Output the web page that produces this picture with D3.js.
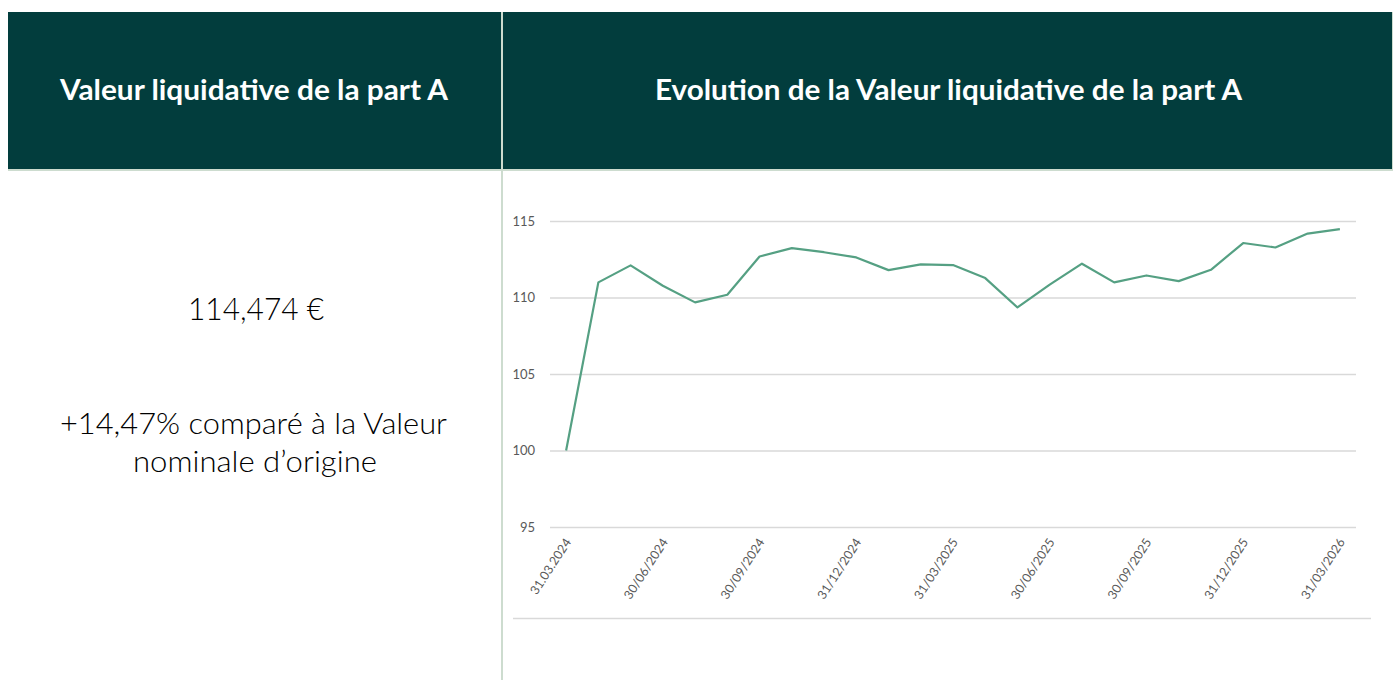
<!DOCTYPE html>
<html lang="fr">
<head>
<meta charset="utf-8">
<script src="https://cdn.jsdelivr.net/npm/d3@7"></script>
<style>
  html, body { margin: 0; padding: 0; background: #ffffff; }
  svg { display: block; font-family: Lato, "Open Sans", sans-serif; }
</style>
</head>
<body>
<svg id="chart" width="1399" height="680"></svg>
<script>
// Monthly net asset value of share A, March 2024 to March 2026
const dates = [
  "31/03/2024", "30/04/2024", "31/05/2024", "30/06/2024", "31/07/2024", "31/08/2024",
  "30/09/2024", "31/10/2024", "30/11/2024", "31/12/2024", "31/01/2025", "28/02/2025",
  "31/03/2025", "30/04/2025", "31/05/2025", "30/06/2025", "31/07/2025", "31/08/2025",
  "30/09/2025", "31/10/2025", "30/11/2025", "31/12/2025", "31/01/2026", "28/02/2026",
  "31/03/2026"
];
const navValues = [
  100.00, 110.99, 112.10, 110.77, 109.68, 110.18,
  112.68, 113.23, 112.96, 112.62, 111.79, 112.16,
  112.12, 111.27, 109.35, 110.84, 112.21, 110.99,
  111.44, 111.07, 111.81, 113.56, 113.27, 114.18,
  114.474
];
// Quarter-end dates shown on the axis, with their displayed text
const tickDates = ["31/03/2024", "30/06/2024", "30/09/2024", "31/12/2024", "31/03/2025",
                   "30/06/2025", "30/09/2025", "31/12/2025", "31/03/2026"];
const tickTexts = ["31.03.2024", "30/06/2024", "30/09/2024", "31/12/2024", "31/03/2025",
                   "30/06/2025", "30/09/2025", "31/12/2025", "31/03/2026"];
const yTicks = [95, 100, 105, 110, 115];

const headerLeft = "Valeur liquidative de la part A";
const headerRight = "Evolution de la Valeur liquidative de la part A";
const navLabel = "114,474 €";
const perfLines = ["+14,47% comparé à la Valeur", "nominale d’origine"];

const svg = d3.select("#chart");
const dark = "#023d3d";
const rule = "#cddccf";

// Header bands
svg.append("rect").attr("x", 8).attr("y", 12).attr("width", 493).attr("height", 157).attr("fill", dark);
svg.append("rect").attr("x", 503).attr("y", 12).attr("width", 889).attr("height", 157).attr("fill", dark);
// Separator lines
svg.append("rect").attr("x", 8).attr("y", 169).attr("width", 1385).attr("height", 2).attr("fill", rule);
svg.append("rect").attr("x", 501).attr("y", 12).attr("width", 2).attr("height", 668).attr("fill", rule);
svg.append("rect").attr("x", 1392).attr("y", 12).attr("width", 1).attr("height", 159).attr("fill", rule);

// Header titles (slightly widened lettering)
svg.append("text").attr("x", 60).attr("y", 100)
  .attr("textLength", 388).attr("lengthAdjust", "spacingAndGlyphs")
  .attr("fill", "#ffffff").attr("font-weight", 700).attr("font-size", 28).text(headerLeft);
svg.append("text").attr("x", 655).attr("y", 100)
  .attr("textLength", 587).attr("lengthAdjust", "spacingAndGlyphs")
  .attr("fill", "#ffffff").attr("font-weight", 700).attr("font-size", 28).text(headerRight);

// Left panel figures
svg.append("text").attr("x", 188).attr("y", 320)
  .attr("textLength", 136).attr("lengthAdjust", "spacingAndGlyphs")
  .attr("fill", "#000000").attr("font-weight", 300).attr("font-size", 32).text(navLabel);
const perfBox = [{ x: 60, w: 387 }, { x: 133, w: 244 }];
svg.append("g").selectAll("text").data(perfLines).join("text")
  .attr("x", (d, i) => perfBox[i].x).attr("y", (d, i) => 434 + i * 38)
  .attr("textLength", (d, i) => perfBox[i].w).attr("lengthAdjust", "spacingAndGlyphs")
  .attr("fill", "#000000").attr("font-weight", 300).attr("font-size", 29).text(d => d);

// Line chart
const plot = { left: 550, right: 1356, top: 221, bottom: 527 };
const x = d3.scalePoint().domain(dates).range([plot.left, plot.right]).padding(0.5);
const y = d3.scaleLinear().domain([95, 115]).range([plot.bottom, plot.top]);

const yAxis = d3.axisLeft(y).tickValues(yTicks).tickSize(-(plot.right - plot.left)).tickPadding(15);
const gy = svg.append("g").attr("transform", `translate(${plot.left},0)`).call(yAxis);
gy.select(".domain").remove();
gy.selectAll(".tick line").attr("stroke", "#d9d9d9").attr("stroke-width", 1.3);
gy.selectAll(".tick text").attr("fill", "#595959").attr("font-size", 13)
  .attr("font-family", "Lato, sans-serif");

const xAxis = d3.axisBottom(x).tickValues(tickDates).tickSize(0)
  .tickFormat(d => tickTexts[tickDates.indexOf(d)]);
const gx = svg.append("g").attr("transform", `translate(0,${plot.bottom})`).call(xAxis);
gx.select(".domain").remove();
gx.selectAll(".tick text")
  .attr("fill", "#595959").attr("font-size", 12.5).attr("font-family", "Lato, sans-serif")
  .attr("text-anchor", "end").attr("x", 0).attr("y", 0).attr("dy", 0)
  .attr("transform", "translate(5,15) rotate(-57)");

// Bottom rule under the chart
svg.append("line").attr("x1", 513).attr("x2", 1371).attr("y1", 618.5).attr("y2", 618.5)
  .attr("stroke", "#d9d9d9").attr("stroke-width", 1.3);

const line = d3.line().x((d, i) => x(dates[i])).y(d => y(d));
svg.append("path").datum(navValues).attr("d", line)
  .attr("fill", "none").attr("stroke", "#55a083").attr("stroke-width", 2.2)
  .attr("stroke-linejoin", "round");
</script>
</body>
</html>
